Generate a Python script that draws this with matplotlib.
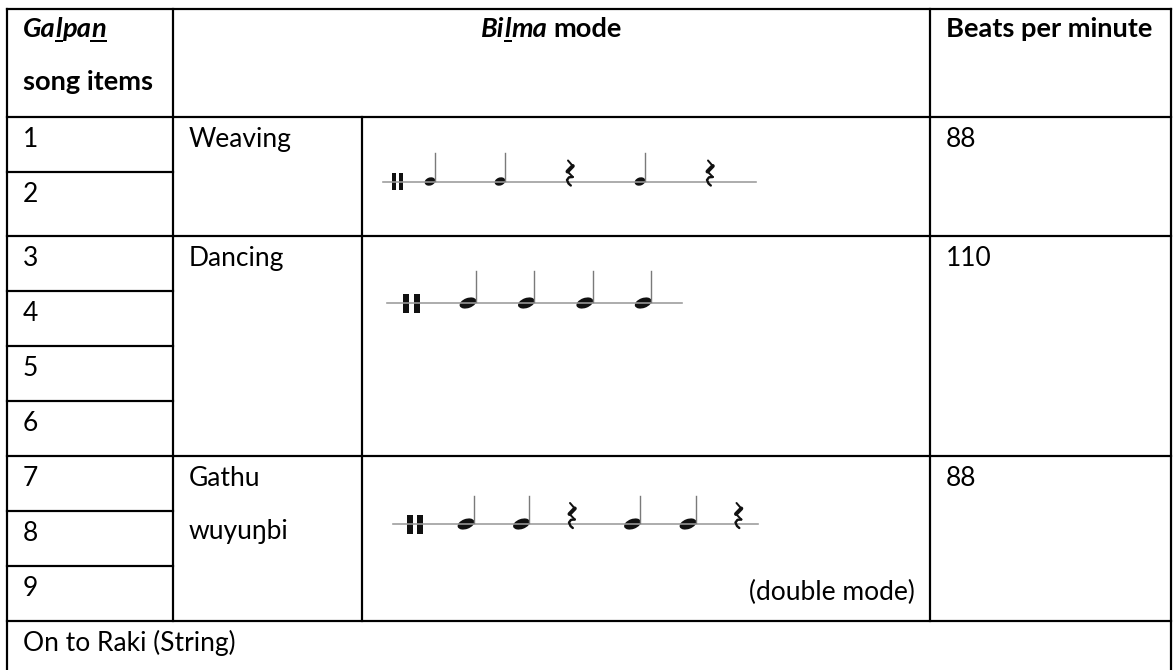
import matplotlib
matplotlib.use("Agg")
import matplotlib.pyplot as plt
from matplotlib.patches import Ellipse, Rectangle

# ---------------- data ----------------
header_item_word = [("Ga", False), ("l", True), ("pa", False), ("n", True)]   # (text, underlined)
header_item_line2 = "song items"
header_mode_word = [("Bi", False), ("l", True), ("ma", False)]
header_mode_suffix = "mode"
header_bpm = "Beats per minute"
song_items = ["1", "2", "3", "4", "5", "6", "7", "8", "9"]
mode_names = [["Weaving"], ["Dancing"], ["Gathu", "wuyuŋbi"]]
mode_item_counts = [2, 4, 3]
bpm_values = ["88", "110", "88"]
rhythm_patterns = [
    ["note", "note", "rest", "note", "rest"],
    ["note", "note", "note", "note"],
    ["note", "note", "rest", "note", "note", "rest"],
]
mode_remark = "(double mode)"
footer_text = "On to Raki (String)"

# ---------------- layout ----------------
W, H = 1173, 670
FONT = ['Lato', 'DejaVu Sans']
col_x = [7, 173, 362, 930, 1171]
header_top, header_bot = 9, 117
row_edges = [117, 172, 236, 291, 346, 401, 456, 511, 566, 621]
PAD_X = 16
BASE_OFF = 30
BORDER_LW = 2.2 * 0.72

fig = plt.figure(figsize=(W / 100, H / 100), dpi=100)
ax = fig.add_axes([0, 0, 1, 1])
ax.set_xlim(0, W)
ax.set_ylim(H, 0)
ax.axis('off')
renderer = fig.canvas.get_renderer()


def text_width(s, size, weight='normal', style='normal'):
    t = ax.text(0, 0, s, fontsize=size, fontweight=weight, fontstyle=style, family=FONT)
    w = t.get_window_extent(renderer).width
    t.remove()
    return w


# fit font sizes to the reference widths
reg_size = 20 * 103 / text_width("Weaving", 20)
bold_size = 20 * 207 / text_width("Beats per minute", 20, 'bold')


def txt(x, y, s, bold=False, ha='left'):
    ax.text(x, y, s, fontsize=bold_size if bold else reg_size,
            fontweight='bold' if bold else 'normal', family=FONT,
            va='baseline', ha=ha, color='black')


def rich(x, y, pieces, style, ul_off=4):
    size = bold_size
    cx = x
    for s, ul in pieces:
        w = text_width(s, size, 'bold', style)
        ax.text(cx, y, s, fontsize=size, fontweight='bold', fontstyle=style,
                family=FONT, va='baseline', ha='left', color='black')
        if ul:
            ax.plot([cx - 1, cx + w + 1], [y + ul_off, y + ul_off], color='black',
                    lw=2 * 0.72, solid_capstyle='butt')
        cx += w
    return cx


def hline(y, x0, x1):
    ax.plot([x0, x1], [y, y], color='black', lw=BORDER_LW, solid_capstyle='projecting')


def vline(x, y0, y1):
    ax.plot([x, x], [y0, y1], color='black', lw=BORDER_LW, solid_capstyle='projecting')


# ---------------- borders ----------------
hline(header_top, col_x[0], col_x[-1])
hline(header_bot, col_x[0], col_x[-1])
vline(col_x[0], header_top, H + 5)
vline(col_x[-1], header_top, H + 5)
vline(col_x[1], header_top, row_edges[-1])
vline(col_x[3], header_top, row_edges[-1])
vline(col_x[2], header_bot, row_edges[-1])

group_bounds = [0]
for c in mode_item_counts:
    group_bounds.append(group_bounds[-1] + c)
for i, y in enumerate(row_edges[1:], start=1):
    if i in group_bounds:
        hline(y, col_x[0], col_x[-1])
    else:
        hline(y, col_x[0], col_x[1])

# ---------------- header ----------------
rich(col_x[0] + PAD_X, header_top + 28, header_item_word, 'italic')
txt(col_x[0] + PAD_X, header_top + 81, header_item_line2, bold=True)

# centred "Bilma mode"
space_w = text_width("a a", bold_size, 'bold') - text_width("aa", bold_size, 'bold')
w1 = sum(text_width(s, bold_size, 'bold', 'italic') for s, _ in header_mode_word)
w2 = text_width(header_mode_suffix, bold_size, 'bold')
total = w1 + space_w + w2
start = (col_x[1] + col_x[3]) / 2 - total / 2
end = rich(start, header_top + 28, header_mode_word, 'italic')
txt(end + space_w, header_top + 28, header_mode_suffix, bold=True)

txt(col_x[3] + PAD_X, header_top + 28, header_bpm, bold=True)

# ---------------- body text ----------------
for i, item in enumerate(song_items):
    txt(col_x[0] + PAD_X, row_edges[i] + BASE_OFF, item)

for g, names in enumerate(mode_names):
    top = row_edges[group_bounds[g]]
    for k, nm in enumerate(names):
        txt(col_x[1] + PAD_X, top + BASE_OFF + 53 * k, nm)
    txt(col_x[3] + PAD_X, top + BASE_OFF, bpm_values[g])

txt(col_x[3] - 15, row_edges[-1] - 21, mode_remark, ha='right')
txt(col_x[0] + PAD_X, row_edges[-1] + BASE_OFF, footer_text)

# ---------------- rhythm notation ----------------
staff_layout = [
    dict(y=181.5, x0=383, x1=756, bars=[(392, 4), (398.5, 4)], bar_h=(173, 190),
         first=430, step=70, head=(11, 8), stem_top=153, rest_dx=0),
    dict(y=303, x0=387, x1=682, bars=[(403, 5.5), (414, 6)], bar_h=(294, 313),
         first=468, step=58.4, head=(17.5, 10), stem_top=271, rest_dx=0),
    dict(y=524, x0=393, x1=758, bars=[(407, 6), (417, 6)], bar_h=(515, 534),
         first=466, step=55.5, head=(17.5, 10), stem_top=496, rest_dx=-5),
]

rest_thin1 = [(-2, -21), (2.8, -15.5)]
rest_thick = [(2.8, -15.5), (-2.5, -10)]
rest_thin2 = [(-2.5, -10), (2.8, -4.5)]
rest_hook = [(2.8, -4.5), (-1, -4.2), (-3, -1.5), (-1.5, 2), (0.8, 4)]


def draw_rest(cx, cy):
    for pts, lw in [(rest_thin1, 2.0), (rest_thick, 4.0), (rest_thin2, 2.0), (rest_hook, 2.4)]:
        ax.plot([cx + p[0] for p in pts], [cy + p[1] for p in pts], color='#111111',
                lw=lw * 0.72, solid_capstyle='round', solid_joinstyle='round')


for pattern, L in zip(rhythm_patterns, staff_layout):
    ax.plot([L['x0'], L['x1']], [L['y'], L['y']], color='#9a9a9a', lw=1.6 * 0.72)
    for bx, bw in L['bars']:
        ax.add_patch(Rectangle((bx, L['bar_h'][0]), bw, L['bar_h'][1] - L['bar_h'][0],
                               facecolor='#111111', edgecolor='none'))
    for k, ev in enumerate(pattern):
        x = L['first'] + L['step'] * k
        if ev == 'note':
            hw, hh = L['head']
            ax.add_patch(Ellipse((x, L['y']), hw, hh, angle=-20, facecolor='#111111',
                                 edgecolor='none'))
            sx = x + hw / 2 - 1
            ax.plot([sx, sx], [L['y'] - 1, L['stem_top']], color='#7a7a7a', lw=1.4 * 0.72)
        else:
            draw_rest(x + L['rest_dx'], L['y'])

fig.savefig("out.png", dpi=100, facecolor='white')
